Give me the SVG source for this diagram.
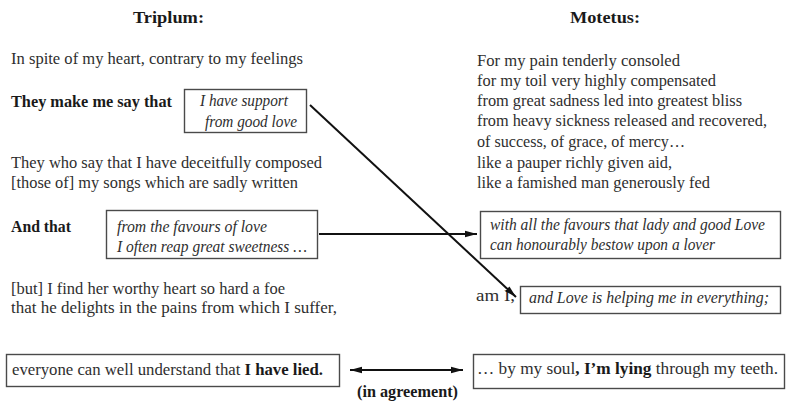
<svg xmlns="http://www.w3.org/2000/svg" width="796" height="402" viewBox="0 0 796 402">
<defs>
<style>
text{font-family:"Liberation Serif","Times New Roman",serif;font-size:16px;fill:#2e2e2e}
.b{font-weight:bold;fill:#1a1a1a}
.i{font-style:italic}
.box{fill:#fff;stroke:#4a4a4a;stroke-width:1.4}
.ar{stroke:#111;stroke-width:2;fill:none}
</style>
<marker id="ah" viewBox="0 0 12 8" refX="12" refY="4" markerWidth="12" markerHeight="8" markerUnits="userSpaceOnUse" orient="auto-start-reverse">
<path d="M0,0.8 L12,4 L0,7.2 Z" fill="#111"/>
</marker>
</defs>
<rect width="796" height="402" fill="#fff"/>

<g id="headers">
<text class="b" x="133" y="23" textLength="71" lengthAdjust="spacingAndGlyphs">Triplum:</text>
<text class="b" x="570" y="23" textLength="70" lengthAdjust="spacingAndGlyphs">Motetus:</text>
</g>

<g id="triplum-text">
<text x="11" y="64" textLength="292" lengthAdjust="spacingAndGlyphs">In spite of my heart, contrary to my feelings</text>
<text class="b" x="11" y="107" textLength="161" lengthAdjust="spacingAndGlyphs">They make me say that</text>
<text x="11" y="168" textLength="311" lengthAdjust="spacingAndGlyphs">They who say that I have deceitfully composed</text>
<text x="11" y="188" textLength="287" lengthAdjust="spacingAndGlyphs">[those of] my songs which are sadly written</text>
<text class="b" x="11" y="232" textLength="60" lengthAdjust="spacingAndGlyphs">And that</text>
<text x="11" y="294" textLength="274" lengthAdjust="spacingAndGlyphs">[but] I find her worthy heart so hard a foe</text>
<text x="11" y="313" textLength="326" lengthAdjust="spacingAndGlyphs">that he delights in the pains from which I suffer,</text>
</g>

<g id="motetus-text">
<text x="477" y="66" textLength="203" lengthAdjust="spacingAndGlyphs">For my pain tenderly consoled</text>
<text x="477" y="86" textLength="239" lengthAdjust="spacingAndGlyphs">for my toil very highly compensated</text>
<text x="477" y="106" textLength="265" lengthAdjust="spacingAndGlyphs">from great sadness led into greatest bliss</text>
<text x="477" y="126" textLength="290" lengthAdjust="spacingAndGlyphs">from heavy sickness released and recovered,</text>
<text x="477" y="147" textLength="208" lengthAdjust="spacingAndGlyphs">of success, of grace, of mercy…</text>
<text x="477" y="168" textLength="195" lengthAdjust="spacingAndGlyphs">like a pauper richly given aid,</text>
<text x="477" y="188" textLength="233" lengthAdjust="spacingAndGlyphs">like a famished man generously fed</text>
<text x="476" y="301" textLength="39" lengthAdjust="spacingAndGlyphs">am I,</text>
</g>

<g id="connectors">
<line class="ar" x1="310" y1="105" x2="516" y2="297" marker-end="url(#ah)"/>
<line class="ar" x1="319" y1="234" x2="477" y2="234" marker-end="url(#ah)"/>
<line class="ar" x1="350" y1="370" x2="463" y2="370" marker-start="url(#ah)" marker-end="url(#ah)"/>
</g>

<g id="box-support">
<rect class="box" x="184.5" y="89.5" width="122" height="43"/>
<text class="i" x="200" y="106" textLength="88" lengthAdjust="spacingAndGlyphs">I have support</text>
<text class="i" x="205" y="127" textLength="92" lengthAdjust="spacingAndGlyphs">from good love</text>
</g>

<g id="box-favours">
<rect class="box" x="106.5" y="210.5" width="211" height="48"/>
<text class="i" x="117" y="232" textLength="150" lengthAdjust="spacingAndGlyphs">from the favours of love</text>
<text class="i" x="117" y="252" textLength="190" lengthAdjust="spacingAndGlyphs">I often reap great sweetness …</text>
</g>

<g id="box-all-favours">
<rect class="box" x="480.5" y="211.5" width="300" height="47"/>
<text class="i" x="490" y="230" textLength="275" lengthAdjust="spacingAndGlyphs">with all the favours that lady and good Love</text>
<text class="i" x="490" y="250" textLength="225" lengthAdjust="spacingAndGlyphs">can honourably bestow upon a lover</text>
</g>

<g id="box-love-helping">
<rect class="box" x="520.5" y="286.5" width="260" height="27"/>
<text class="i" x="529" y="303" textLength="240" lengthAdjust="spacingAndGlyphs">and Love is helping me in everything;</text>
</g>

<g id="box-lied">
<rect class="box" x="6.5" y="354.5" width="333" height="32"/>
<text x="12" y="375" textLength="311" lengthAdjust="spacingAndGlyphs">everyone can well understand that <tspan class="b">I have lied.</tspan></text>
</g>

<g id="box-lying">
<rect class="box" x="473.5" y="354.5" width="311" height="34"/>
<text x="477" y="374" textLength="301" lengthAdjust="spacingAndGlyphs">… by my soul<tspan class="b">, I’m lying</tspan> through my teeth.</text>
</g>

<g id="label-agreement">
<text class="b" x="357" y="397" textLength="101" lengthAdjust="spacingAndGlyphs">(in agreement)</text>
</g>
</svg>
